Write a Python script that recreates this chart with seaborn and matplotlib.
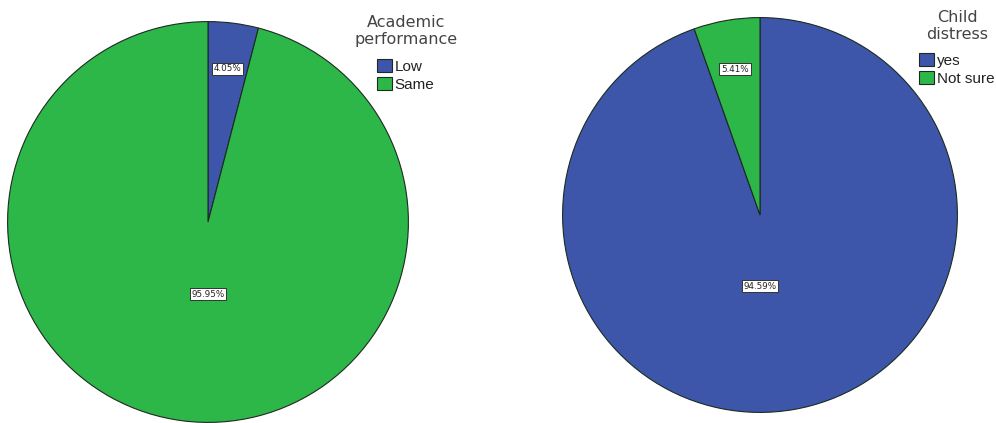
import numpy as np
import matplotlib
matplotlib.use("Agg")
import matplotlib.pyplot as plt
import seaborn as sns

# Data
acad_labels = ["Low", "Same"]
acad_values = [4.05, 95.95]
acad_title = ["Academic", "performance"]

dist_labels = ["yes", "Not sure"]
dist_values = [94.59, 5.41]
dist_title = ["Child", "distress"]

sns.set_theme(style="white")
plt.rcParams['font.family'] = ['DejaVu Sans']

BLUE = "#3d56aa"
GREEN = "#2db748"
EDGE = "#1c2a22"

W, H = 996, 423
fig = plt.figure(figsize=(W / 100, H / 100), dpi=100)
fig.patch.set_facecolor("white")


def px_axes(cx, cy, r):
    return fig.add_axes([(cx - r) / W, (H - (cy + r)) / H, 2 * r / W, 2 * r / H])


def draw_pie(ax, values, labels, colors, small_r, title_lines, title_cx, title_baselines,
             leg_x, leg_top):
    wedges, _ = ax.pie(values, colors=colors, startangle=90, counterclock=False,
                       radius=1.0, wedgeprops=dict(edgecolor=EDGE, linewidth=0.8))
    ax.set_xlim(-1.003, 1.003)
    ax.set_ylim(-1.003, 1.003)
    ax.set_aspect("auto")
    ax.axis("off")
    for w, v in zip(wedges, values):
        if v < 50:
            mid = np.deg2rad((w.theta1 + w.theta2) / 2)
            x, y = small_r * np.cos(mid), small_r * np.sin(mid)
        else:
            x, y = 0.0, -0.36
        ax.text(x, y, f"{v:.2f}%", ha="center", va="center", fontsize=6.3,
                color="#222222",
                bbox=dict(boxstyle="square,pad=0.2", fc="white", ec="#333333", lw=0.7))
    for line, yb in zip(title_lines, title_baselines):
        fig.text(title_cx / W, 1 - yb / H, line, ha="center", va="baseline",
                 fontsize=11.5, color="#444444")
    leg = fig.legend(wedges, labels, loc="upper left",
                     bbox_to_anchor=(leg_x / W, 1 - leg_top / H),
                     frameon=False, prop={"family": "Liberation Sans", "size": 11},
                     handlelength=0.95, handleheight=0.95, handletextpad=0.2,
                     labelspacing=0.2, borderpad=0.0, borderaxespad=0.0)
    for t in leg.get_texts():
        t.set_color("#222222")
    return leg


ax1 = px_axes(208, 222, 201)
draw_pie(ax1, acad_values, acad_labels, [BLUE, GREEN], 0.77, acad_title, 406, [27, 44],
         377, 59)

ax2 = px_axes(760, 215, 198)
draw_pie(ax2, dist_values, dist_labels, [BLUE, GREEN], 0.75, dist_title, 957, [22, 39],
         919, 53)

fig.savefig("out.png", dpi=100, facecolor="white")
